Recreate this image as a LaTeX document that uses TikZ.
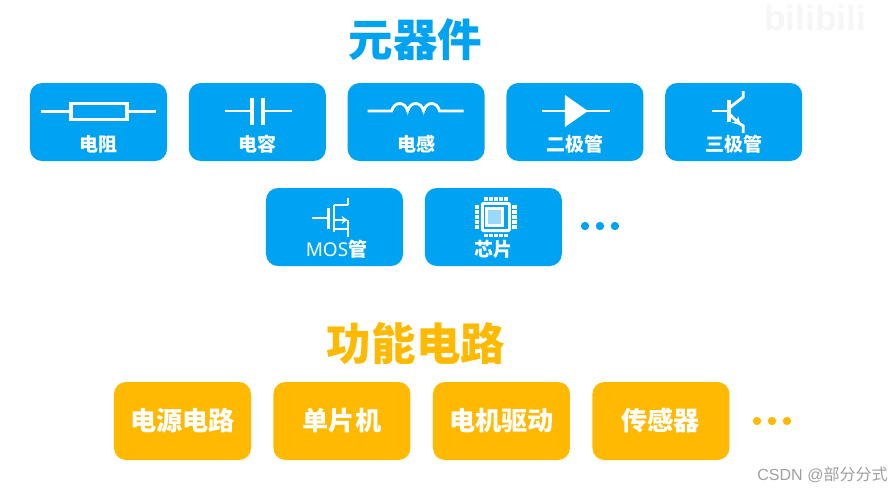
\documentclass[tikz,border=0pt]{standalone}
\usepackage{fontspec}
\setmainfont{Noto Sans CJK SC}
\newfontfamily\latinfont{Liberation Sans}
\newfontfamily\mosfont{Noto Sans}
\usepackage{xcolor}
\usepackage{tikz}
\usetikzlibrary{arrows.meta,positioning}
\definecolor{partblue}{HTML}{00A2F2}
\definecolor{funcorange}{HTML}{FFB900}

\begin{document}
\begin{tikzpicture}[
    x=0.03cm, y=-0.03cm,
    node distance=0.66cm and 0.64cm,
    card/.style={rectangle, rounded corners=0.36cm, minimum width=4.11cm, minimum height=2.34cm,
                 inner sep=0pt},
    partbox/.style={card, fill=partblue},
    funcbox/.style={card, fill=funcorange, text=white, font=\fontsize{22.3}{24}\selectfont\bfseries},
    tag/.style={text=white, inner sep=0pt, font=\fontsize{16.2}{18}\selectfont\bfseries},
    heading/.style={inner sep=0pt, font=\fontsize{38}{40}\selectfont\bfseries},
    wire/.style={draw=white, line width=3.2pt},
    thin wire/.style={draw=white, line width=2.4pt},
    dot/.style={circle, inner sep=0pt, minimum size=0.25cm}
]
\useasboundingbox (0,0) rectangle (891,490);

% Components
\node[heading, text=partblue] (parts) at (415.5,40) {元器件};
\node[partbox] (res) at (98.5,122) {};
\node[partbox, right=of res] (cap) {};
\node[partbox, right=of cap] (ind) {};
\node[partbox, right=of ind] (dio) {};
\node[partbox, right=of dio] (bjt) {};
\node[partbox] (mos) at (334.5,227) {};
\node[partbox, right=of mos] (chip) {};
\node[dot, fill=partblue] (pdot1) at (585,226) {};
\node[dot, fill=partblue, right=0.185cm of pdot1] (pdot2) {};
\node[dot, fill=partblue, right=0.185cm of pdot2] (pdot3) {};

% Functional circuits
\node[heading, text=funcorange] (funcs) at (416,344) {功能电路};
\node[funcbox] (power) at (182.5,421) {电源电路};
\node[funcbox, right=0.66cm of power] (mcu) {单片机};
\node[funcbox, right=0.66cm of mcu] (motor) {电机驱动};
\node[funcbox, right=0.66cm of motor] (sensor) {传感器};
\node[dot, fill=funcorange] (fdot1) at (757,421) {};
\node[dot, fill=funcorange, right=0.185cm of fdot1] (fdot2) {};
\node[dot, fill=funcorange, right=0.185cm of fdot2] (fdot3) {};

% Resistor
\begin{scope}[shift={(res.center)}]
  \draw[thin wire] (-57.5,-10.5) -- (-27.5,-10.5) (28.5,-10.5) -- (57.5,-10.5);
  \draw[wire] (-27.5,-18.5) rectangle (28.5,-2.5);
  \node[tag] (restag) at (0,22) {电阻};
\end{scope}

% Capacitor
\begin{scope}[shift={(cap.center)}]
  \draw[thin wire] (-32.5,-11) -- (-5,-11);
  \draw[wire] (-5,-24) -- (-5,3);
  \draw[thin wire] (34.5,-11) -- (6,-11);
  \draw[wire] (6,-24) -- (6,3);
  \node[tag] (captag) at (0,22) {电容};
\end{scope}

% Inductor
\begin{scope}[shift={(ind.center)}]
  \draw[thin wire] (-48.5,-11) -- (-24.5,-11)
    .. controls (-22,-21) and (-11,-21) .. (-8.5,-11)
    .. controls (-6,-21) and (5,-21) .. (7.5,-11)
    .. controls (10,-21) and (21,-21) .. (23.5,-11) -- (47.5,-11);
  \node[tag] (indtag) at (0,22) {电感};
\end{scope}

% Diode
\begin{scope}[shift={(dio.center)}]
  \draw[thin wire] (-33,-11) -- (35,-11);
  \fill[white] (-10,-27) -- (13,-11) -- (-10,5) -- cycle;
  \node[tag] (diotag) at (0,22) {二极管};
\end{scope}

% Transistor
\begin{scope}[shift={(bjt.center)}]
  \draw[thin wire] (-21.5,-11) -- (-4.5,-11);
  \draw[wire] (-4.5,-22) -- (-4.5,0);
  \draw[thin wire] (9.5,-31) -- (9.5,-25) -- (-4.5,-14);
  \draw[thin wire, -{Stealth[length=7pt,width=8pt]}] (-4.5,-8) -- (7,3);
  \draw[thin wire] (5,1) -- (9.5,4) -- (9.5,11);
  \node[tag] (bjttag) at (0,22) {三极管};
\end{scope}

% MOSFET
\begin{scope}[shift={(mos.center)}]
  \draw[thin wire] (-22.5,-9) -- (-6,-9) (-6,-19) -- (-6,2);
  \draw[thin wire] (-0.5,-22) -- (-0.5,5);
  \draw[thin wire] (-0.5,-22) -- (13.5,-22) (13.5,-29) -- (13.5,-22);
  \draw[thin wire] (-0.5,2) -- (13.5,2) (13.5,-7) -- (13.5,10);
  \draw[thin wire, -{Stealth[length=5pt,width=7pt]}] (-0.5,-7) -- (13,-7);
  \node[tag] (mostag) at (2,22) {\mosfont\bfseries MOS\rmfamily\bfseries 管};
\end{scope}

% Chip
\begin{scope}[shift={(chip.center)}]
  \fill[white, rounded corners=1.5pt] (-12.5,-25) rectangle (17.5,5);
  \fill[partblue] (-9.5,-22) rectangle (14.5,2);
  \draw[thin wire, fill=partblue!40!white] (-6.5,-18.5) rectangle (9.5,-1.5);
  \foreach \i in {-10,-5,...,10} {
    \fill[white] (\i+1,-30) rectangle (\i+4.5,-26.5);
    \fill[white] (\i+1,6.5) rectangle (\i+4.5,10);
    \fill[white] (-18.5,\i-11.75) rectangle (-14,\i-8.25);
    \fill[white] (19,\i-11.75) rectangle (23.5,\i-8.25);
  }
  \node[tag] (chiptag) at (0,22) {芯片};
\end{scope}

% Watermarks
\node[anchor=east, inner sep=0pt, text=gray!7, font=\latinfont\fontsize{30}{32}\selectfont\bfseries] (site) at (866,18) {bilibili};
\node[anchor=east, inner sep=0pt, text=gray!75, font=\fontsize{13.7}{15}\selectfont] (csdn) at (888,475) {{\latinfont CSDN @}部分分式};

\end{tikzpicture}
\end{document}
